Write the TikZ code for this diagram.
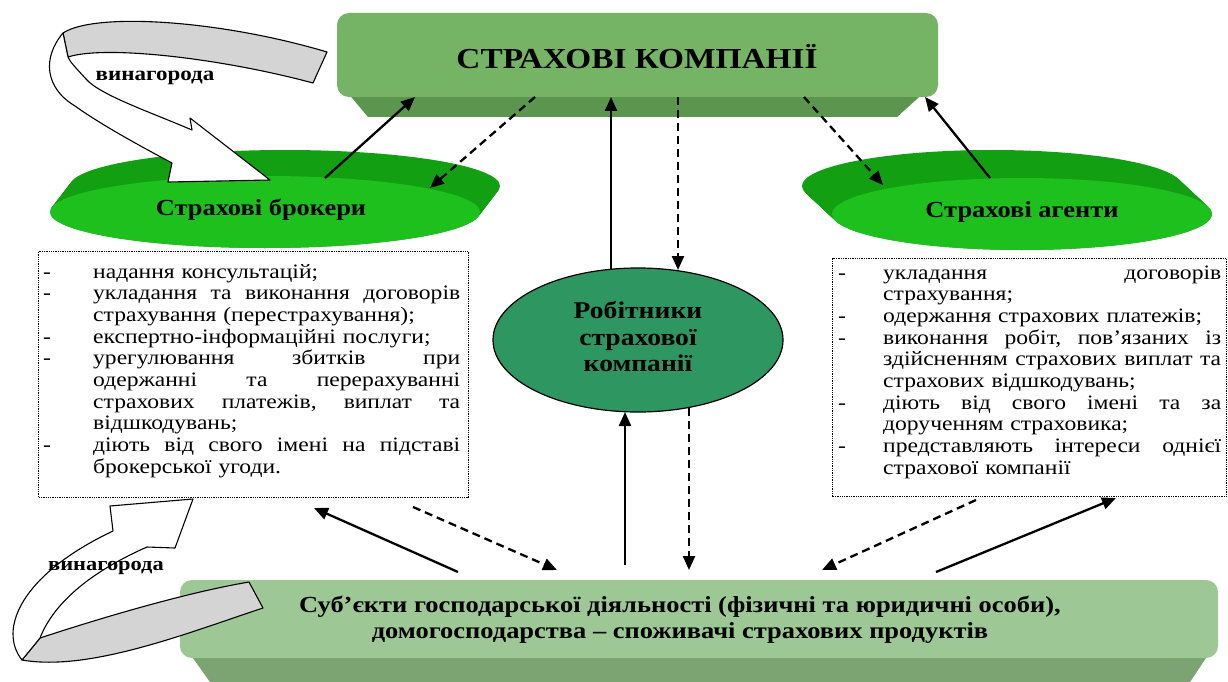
\documentclass[tikz,border=0pt]{standalone}
\usepackage{fontspec}
\setmainfont{Liberation Serif}[FakeStretch=1.15]
\usetikzlibrary{arrows.meta}
\definecolor{topface}{RGB}{117,180,101}
\definecolor{topbevel}{RGB}{92,150,78}
\definecolor{botface}{RGB}{157,199,148}
\definecolor{botbevel}{RGB}{124,164,114}
\definecolor{ellfront}{RGB}{29,192,29}
\definecolor{ellback}{RGB}{18,160,18}
\definecolor{workfill}{RGB}{46,150,96}
\definecolor{bandgray}{RGB}{212,212,212}
\newcommand\ditem[3]{\makebox[#1][l]{-}\makebox[#2][l]{#3}}
\newcommand\citem[3]{\hspace*{#1}\makebox[#2][l]{#3}}
\begin{document}
\begin{tikzpicture}[x=1pt,y=-1pt,
  solidarrow/.style={line width=2.3pt,-{Triangle[length=14pt,width=12pt]}},
  dasharrow/.style={solidarrow,dash pattern=on 8pt off 5pt},
  infobox/.style={draw,line width=1.3pt,dash pattern=on 1.3pt off 1pt,inner sep=0pt,anchor=north west},
  band/.style={draw=black,line width=1.1pt,fill=bandgray,line join=round},
  bandwhite/.style={draw=black,line width=1.1pt,fill=white,line join=round},
  bodytext/.style={inner sep=0pt,anchor=base west,align=left,font=\fontsize{20.5}{21.7}\selectfont},
  boldlabel/.style={inner sep=0pt,font=\bfseries}
]
\useasboundingbox (0,0) rectangle (1228,682);
\fill[white] (0,0) rectangle (1228,682);

% ---- top box: insurance companies
\fill[topbevel] (337,80) -- (938,80) -- (897,117) -- (368,117) -- cycle;
\fill[topface,rounded corners=12pt] (337,13) rectangle (938,97);
\node[boldlabel,font=\fontsize{29}{34}\selectfont\bfseries] (comp) at (637,57) {СТРАХОВІ КОМПАНІЇ};

% ---- bottom box: consumers
\fill[botbevel] (180,640) -- (1218,640) -- (1190,682) -- (210,682) -- cycle;
\fill[botface,rounded corners=12pt] (180,580) rectangle (1218,658);
\node[boldlabel,align=center,font=\fontsize{23}{26}\selectfont\bfseries] (cons) at (680,620)
  {Суб’єкти господарської діяльності (фізичні та юридичні особи),\\домогосподарства – споживачі страхових продуктів};

% ---- brokers ellipse
\foreach \i in {0,...,25}{\fill[ellback] ({285-20*\i/25},{186+26*\i/25}) ellipse [x radius=215,y radius=36];}
\fill[ellfront] (265,212) ellipse [x radius=215,y radius=36];
\node[boldlabel,font=\fontsize{23}{27}\selectfont\bfseries] (brok) at (261,210) {Страхові брокери};

% ---- agents ellipse
\foreach \i in {0,...,25}{\fill[ellback] ({992+30*\i/25},{186+28*\i/25}) ellipse [x radius=190,y radius=36];}
\fill[ellfront] (1022,214) ellipse [x radius=190,y radius=36];
\node[boldlabel,font=\fontsize{23}{27}\selectfont\bfseries] (agen) at (1022,212) {Страхові агенти};

% ---- workers ellipse
\draw[fill=workfill,line width=1.2pt] (638,340) ellipse [x radius=145,y radius=72];
\node[boldlabel,align=center,font=\fontsize{24}{26.5}\selectfont\bfseries] (work) at (638,337)
  {Робітники\\страхової\\компанії};

% ---- info boxes
\node[infobox,minimum width=430pt,minimum height=246pt] (lbox) at (38,251) {};
\node[bodytext,text width=415pt] (ltext) at (43,278) {%
\ditem{50pt}{367pt}{надання консультацій;}\\
\ditem{50pt}{367pt}{укладання\hfill та\hfill виконання\hfill договорів}\\
\citem{50pt}{367pt}{страхування (перестрахування);}\\
\ditem{50pt}{367pt}{експертно-інформаційні послуги;}\\
\ditem{50pt}{367pt}{урегулювання\hfill збитків\hfill при}\\
\citem{50pt}{367pt}{одержанні\hfill та\hfill перерахуванні}\\
\citem{50pt}{367pt}{страхових\hfill платежів,\hfill виплат\hfill та}\\
\citem{50pt}{367pt}{відшкодувань;}\\
\ditem{50pt}{367pt}{діють\hfill від\hfill свого\hfill імені\hfill на\hfill підставі}\\
\citem{50pt}{367pt}{брокерської угоди.}};

\node[infobox,minimum width=394pt,minimum height=238pt] (rbox) at (832,258) {};
\node[bodytext,text width=383pt] (rtext) at (838,279) {%
\ditem{45pt}{338pt}{укладання\hfill договорів}\\
\citem{45pt}{338pt}{страхування;}\\
\ditem{45pt}{338pt}{одержання страхових платежів;}\\
\ditem{45pt}{338pt}{виконання\hfill робіт,\hfill пов’язаних\hfill із}\\
\citem{45pt}{338pt}{здійсненням\hfill страхових\hfill виплат\hfill та}\\
\citem{45pt}{338pt}{страхових відшкодувань;}\\
\ditem{45pt}{338pt}{діють\hfill від\hfill свого\hfill імені\hfill та\hfill за}\\
\citem{45pt}{338pt}{дорученням страховика;}\\
\ditem{45pt}{338pt}{представляють\hfill інтереси\hfill однієї}\\
\citem{45pt}{338pt}{страхової компанії}};

% ---- curved reward arrow, top
\draw[band] (63,33) .. controls (95,12) and (220,20) .. (327,52) -- (313,83)
  .. controls (220,58) and (105,45) .. (68,57) -- cycle;
\draw[bandwhite] (63,33) .. controls (42,58) and (45,88) .. (75,106)
  .. controls (100,124) and (140,146) .. (172,163) -- (168,182) -- (270,180) -- (190,118) -- (192,130)
  .. controls (150,112) and (100,95) .. (86,79) .. controls (76,68) and (70,62) .. (68,57) -- cycle;
\node[boldlabel,font=\fontsize{20}{23}\selectfont\bfseries] (rew1) at (155,78) {винагорода};

% ---- curved reward arrow, bottom
\draw[band] (40,638) .. controls (110,615) and (190,592) .. (249,582) -- (263,608)
  .. controls (190,632) and (90,672) .. (22,660) -- cycle;
\draw[bandwhite] (22,660) .. controls (-2,630) and (20,575) .. (113,531) -- (110,506) -- (193,499)
  -- (175,548) -- (147,547) .. controls (95,570) and (55,600) .. (40,638) -- cycle;
\node[boldlabel,font=\fontsize{19.5}{22}\selectfont\bfseries] (rew2) at (106,568) {винагорода};

% ---- connector end points
\coordinate (b1) at (325,178); \coordinate (t1) at (415,97);
\coordinate (t2) at (535,97);  \coordinate (b2) at (430,188);
\coordinate (w1) at (611,269); \coordinate (t3) at (611,97);
\coordinate (t4) at (678,97);  \coordinate (w2) at (678,270);
\coordinate (t5) at (804,97);  \coordinate (g1) at (883,185);
\coordinate (g2) at (990,178); \coordinate (t6) at (925,97);
\coordinate (s1) at (625,565); \coordinate (w3) at (625,412);
\coordinate (w4) at (689,408); \coordinate (s2) at (689,570);
\coordinate (s3) at (458,572); \coordinate (l1) at (314,508);
\coordinate (l2) at (413,507); \coordinate (s4) at (557,570);
\coordinate (r1) at (976,500); \coordinate (s5) at (822,570);
\coordinate (s6) at (936,572); \coordinate (r2) at (1116,498);

\draw[solidarrow] (b1) -- (t1);
\draw[dasharrow] (t2) -- (b2);
\draw[solidarrow] (w1) -- (t3);
\draw[dasharrow] (t4) -- (w2);
\draw[dasharrow] (t5) -- (g1);
\draw[solidarrow] (g2) -- (t6);
\draw[solidarrow] (s1) -- (w3);
\draw[dasharrow] (w4) -- (s2);
\draw[solidarrow] (s3) -- (l1);
\draw[dasharrow] (l2) -- (s4);
\draw[dasharrow] (r1) -- (s5);
\draw[solidarrow] (s6) -- (r2);
\end{tikzpicture}
\end{document}
